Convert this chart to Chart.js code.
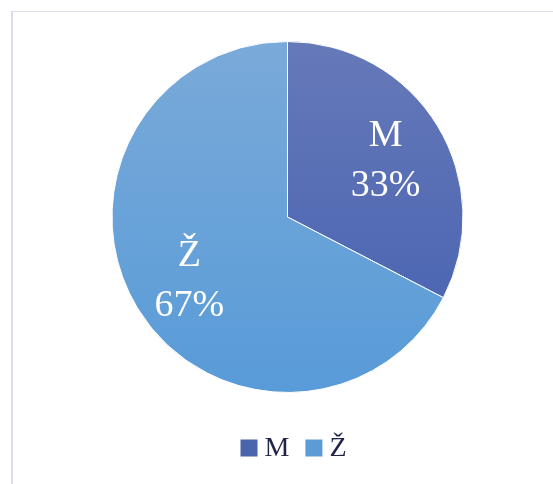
<!DOCTYPE html>
<html>
<head>
<meta charset="utf-8">
<script src="https://cdn.jsdelivr.net/npm/chart.js@4/dist/chart.umd.min.js"></script>
<style>
  html, body { margin: 0; padding: 0; background: #fff; }
  #wrap { position: relative; width: 553px; height: 484px; overflow: hidden; }
  #frame { position: absolute; left: 11px; top: 11px; width: 560px; height: 500px;
           border-left: 2px solid #d9dcee; border-top: 1px solid #d9dcee; box-sizing: border-box; }
  canvas { position: absolute; left: 0; top: 0; }
</style>
</head>
<body>
<div id="wrap">
  <div id="frame"></div>
  <canvas id="c" width="553" height="484"></canvas>
</div>
<script>
const categories = ["M", "Ž"];
const shares = [32.6, 67.4];
const gradientTop = ["#6679b9", "#7aaad9"];
const gradientBottom = ["#4460b0", "#589bd8"];
const legendColors = ["#4a64ae", "#5c9bd6"];

const serif = '"Liberation Serif", "Times New Roman", "DejaVu Serif", serif';

function sliceFill(ctx) {
  const chart = ctx.chart;
  const a = chart.chartArea;
  if (!a || !isFinite(a.top) || !isFinite(a.bottom)) return legendColors[ctx.dataIndex];
  const cy = (a.top + a.bottom) / 2;
  const r = Math.min(a.right - a.left, a.bottom - a.top) / 2;
  const g = chart.ctx.createLinearGradient(0, cy - r, 0, cy + r);
  g.addColorStop(0, gradientTop[ctx.dataIndex]);
  g.addColorStop(1, gradientBottom[ctx.dataIndex]);
  return g;
}

const sliceLabels = {
  id: 'sliceLabels',
  afterDatasetsDraw(chart) {
    const ctx = chart.ctx;
    const meta = chart.getDatasetMeta(0);
    const total = chart.data.datasets[0].data.reduce((s, v) => s + v, 0);
    ctx.save();
    ctx.fillStyle = '#ffffff';
    ctx.font = '38px ' + serif;
    ctx.textAlign = 'center';
    ctx.textBaseline = 'middle';
    meta.data.forEach((el, i) => {
      const p = el.getProps(['x', 'y', 'startAngle', 'endAngle', 'outerRadius'], true);
      const mid = (p.startAngle + p.endAngle) / 2;
      const rr = p.outerRadius * 0.655;
      const x = p.x + Math.cos(mid) * rr;
      const y = p.y + Math.sin(mid) * rr;
      const pct = Math.round(chart.data.datasets[0].data[i] / total * 100) + '%';
      ctx.fillText(chart.data.labels[i], x, y - 21);
      ctx.fillText(pct, x, y + 29);
    });
    ctx.restore();
  }
};

const bottomLegend = {
  id: 'bottomLegend',
  afterDraw(chart) {
    const ctx = chart.ctx;
    ctx.save();
    ctx.font = '28px ' + serif;
    ctx.textBaseline = 'middle';
    ctx.textAlign = 'left';
    const box = 17, gapBoxText = 7, gapItems = 16;
    const labels = chart.data.labels;
    const widths = labels.map(t => box + gapBoxText + ctx.measureText(t).width);
    const total = widths.reduce((s, w) => s + w, 0) + gapItems * (labels.length - 1);
    let x = 293.5 - total / 2;
    const cy = 448;
    labels.forEach((t, i) => {
      ctx.fillStyle = legendColors[i];
      ctx.fillRect(x, cy - box / 2, box, box);
      ctx.fillStyle = '#1f2447';
      ctx.fillText(t, x + box + gapBoxText, cy + 1);
      x += widths[i] + gapItems;
    });
    ctx.restore();
  }
};

new Chart(document.getElementById('c'), {
  type: 'pie',
  data: {
    labels: categories,
    datasets: [{
      data: shares,
      backgroundColor: sliceFill,
      borderColor: '#ffffff',
      borderWidth: 1
    }]
  },
  options: {
    responsive: false,
    animation: false,
    layout: { padding: { left: 22, right: 0, top: 41, bottom: 91 } },
    plugins: {
      legend: { display: false },
      tooltip: { enabled: false }
    }
  },
  plugins: [sliceLabels, bottomLegend]
});
</script>
</body>
</html>
